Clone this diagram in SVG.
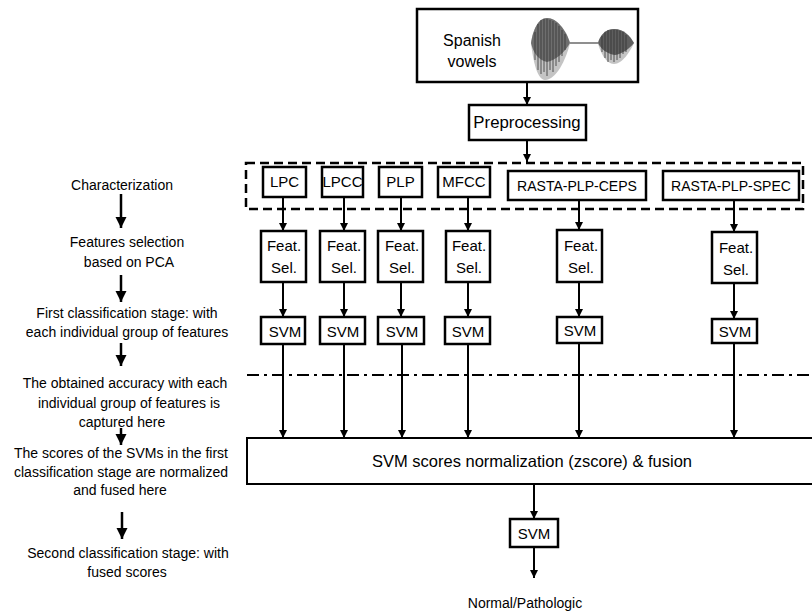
<svg xmlns="http://www.w3.org/2000/svg" width="812" height="616" viewBox="0 0 812 616">
<defs>
<marker id="ah" viewBox="0 0 10 10" refX="10" refY="5" markerWidth="4" markerHeight="4" markerUnits="strokeWidth" orient="auto">
<path d="M0,0 L10,5 L0,10 z" fill="#000"/>
</marker>
<marker id="ahs" viewBox="0 0 10 10" refX="10" refY="5" markerWidth="4.5" markerHeight="4.5" markerUnits="strokeWidth" orient="auto">
<path d="M0,0 L10,5 L0,10 z" fill="#000"/>
</marker>
</defs>
<style>
text{font-family:"Liberation Sans",Arial,sans-serif;fill:#000;}
.lt{font-size:14px;text-anchor:middle;}
.nt{font-size:15px;text-anchor:middle;}
.box{fill:#fff;stroke:#000;stroke-width:2.5;}
.ln{stroke:#000;stroke-width:2;fill:none;marker-end:url(#ah);}
.la{stroke:#000;stroke-width:2.5;fill:none;marker-end:url(#ahs);}
</style>
<rect width="812" height="616" fill="#fff"/>

<!-- left column -->
<g id="legend">
<text class="lt" x="122" y="190">Characterization</text>
<text class="lt" x="127" y="247">Features selection</text>
<text class="lt" x="129" y="267">based on PCA</text>
<text class="lt" x="127" y="318">First classification stage: with</text>
<text class="lt" x="127" y="337">each individual group of features</text>
<text class="lt" x="125" y="388">The obtained accuracy with each</text>
<text class="lt" x="129" y="408">individual group of features is</text>
<text class="lt" x="122" y="427">captured here</text>
<text class="lt" x="121" y="458">The scores of the SVMs in the first</text>
<text class="lt" x="121" y="477">classification stage are normalized</text>
<text class="lt" x="120" y="495">and fused here</text>
<text class="lt" x="128" y="558">Second classification stage: with</text>
<text class="lt" x="127" y="577">fused scores</text>
<path class="la" d="M121,194 V228"/>
<path class="la" d="M121,275 V302"/>
<path class="la" d="M121,343 V366"/>
<path class="la" d="M121,428 V445"/>
<path class="la" d="M122,512 V539"/>
</g>

<!-- dashed characterization frame and dash-dot line -->
<rect id="charFrame" x="246" y="163" width="557" height="46" fill="none" stroke="#000" stroke-width="2.5" stroke-dasharray="9,5"/>
<line id="accLine" x1="247" y1="375" x2="812" y2="375" stroke="#000" stroke-width="2" stroke-dasharray="12,5,3,5"/>

<g id="connectors">
<path class="ln" d="M527,82 V105"/>
<path class="ln" d="M527,140 V162"/>
<path class="ln" d="M283,197 V231"/>
<path class="ln" d="M344,197 V231"/>
<path class="ln" d="M401,197 V231"/>
<path class="ln" d="M468,197 V231"/>
<path class="ln" d="M579,200 V230"/>
<path class="ln" d="M734,200 V232"/>
<path class="ln" d="M283,282 V317"/>
<path class="ln" d="M344,282 V317"/>
<path class="ln" d="M401,282 V317"/>
<path class="ln" d="M468,282 V317"/>
<path class="ln" d="M579,282 V317"/>
<path class="ln" d="M734,283 V319"/>
<path class="ln" d="M283,344 V438"/>
<path class="ln" d="M344,344 V438"/>
<path class="ln" d="M402,344 V438"/>
<path class="ln" d="M468,344 V438"/>
<path class="ln" d="M579,343 V438"/>
<path class="ln" d="M734,343 V438"/>
<path class="ln" d="M534,484 V519"/>
<path class="ln" d="M534,547 V578"/>
</g>

<g id="input">
<rect class="box" x="417" y="9" width="221" height="73"/>
<text x="472" y="46" font-size="16" text-anchor="middle">Spanish</text>
<text x="472" y="67" font-size="16" text-anchor="middle">vowels</text>
<g id="waveform">
<path d="M531,43 C533,30 538,18 547,18 C557,18 566,30 570,43 C566,60 556,80 545,80 C537,80 533,60 531,43 z" fill="#c4c4c4"/>
<path d="M531,43 C533,30 538,18 547,18 C557,18 566,30 570,43 C565,52 556,60 547,62 C538,60 533,52 531,43 z" fill="#6e6e6e"/>
<path d="M598,43 C600,35 606,29 614,29 C624,29 630,36 634,43 C630,52 622,64 614,64 C606,64 600,52 598,43 z" fill="#c4c4c4"/>
<path d="M598,43 C600,35 606,29 614,29 C624,29 630,36 634,43 C629,49 622,54 615,55 C607,54 601,49 598,43 z" fill="#5e5e5e"/>
<g stroke="#333" stroke-width="0.8">
<line x1="535" y1="32" x2="535" y2="60"/><line x1="538" y1="24" x2="538" y2="70"/><line x1="541" y1="20" x2="541" y2="74"/>
<line x1="544" y1="19" x2="544" y2="72"/><line x1="547" y1="19" x2="547" y2="76"/><line x1="550" y1="20" x2="550" y2="70"/>
<line x1="553" y1="21" x2="553" y2="72"/><line x1="556" y1="23" x2="556" y2="66"/><line x1="559" y1="26" x2="559" y2="62"/>
<line x1="562" y1="30" x2="562" y2="56"/><line x1="565" y1="34" x2="565" y2="50"/>
<line x1="602" y1="36" x2="602" y2="52"/><line x1="605" y1="32" x2="605" y2="58"/><line x1="608" y1="30" x2="608" y2="62"/>
<line x1="611" y1="30" x2="611" y2="60"/><line x1="614" y1="30" x2="614" y2="62"/><line x1="617" y1="30" x2="617" y2="60"/>
<line x1="620" y1="31" x2="620" y2="58"/><line x1="623" y1="32" x2="623" y2="54"/><line x1="626" y1="35" x2="626" y2="52"/>
</g>
<line x1="570" y1="43" x2="598" y2="43" stroke="#444" stroke-width="1.2"/>
</g>
</g>

<g id="preprocessing">
<rect class="box" x="469" y="105" width="117" height="35"/>
<text x="527" y="128" font-size="16.8" text-anchor="middle">Preprocessing</text>
</g>

<g id="lpc"><rect class="box" x="263" y="167" width="43" height="30"/><text class="nt" x="284.5" y="187">LPC</text></g>
<g id="lpcc"><rect class="box" x="322" y="167" width="41" height="30"/><text class="nt" x="342.5" y="187">LPCC</text></g>
<g id="plp"><rect class="box" x="379" y="167" width="43" height="30"/><text class="nt" x="400.5" y="187">PLP</text></g>
<g id="mfcc"><rect class="box" x="438" y="167" width="52" height="30"/><text class="nt" x="464" y="187">MFCC</text></g>
<g id="rastaceps"><rect class="box" x="508" y="171" width="138" height="29"/><text class="nt" x="577" y="191" textLength="120" lengthAdjust="spacingAndGlyphs">RASTA-PLP-CEPS</text></g>
<g id="rastaspec"><rect class="box" x="663" y="171" width="136" height="29"/><text class="nt" x="731" y="191" textLength="120" lengthAdjust="spacingAndGlyphs">RASTA-PLP-SPEC</text></g>

<g id="fs1"><rect class="box" x="261" y="231" width="45" height="51"/><text class="nt" x="284" y="251">Feat.</text><text class="nt" x="284" y="273">Sel.</text></g>
<g id="fs2"><rect class="box" x="320" y="231" width="45" height="51"/><text class="nt" x="344" y="251">Feat.</text><text class="nt" x="344" y="273">Sel.</text></g>
<g id="fs3"><rect class="box" x="378" y="231" width="45" height="51"/><text class="nt" x="402" y="251">Feat.</text><text class="nt" x="402" y="273">Sel.</text></g>
<g id="fs4"><rect class="box" x="446" y="231" width="44" height="51"/><text class="nt" x="469" y="251">Feat.</text><text class="nt" x="469" y="273">Sel.</text></g>
<g id="fs5"><rect class="box" x="557" y="230" width="45" height="52"/><text class="nt" x="581" y="251">Feat.</text><text class="nt" x="581" y="273">Sel.</text></g>
<g id="fs6"><rect class="box" x="712" y="232" width="45" height="51"/><text class="nt" x="736" y="253">Feat.</text><text class="nt" x="736" y="275">Sel.</text></g>

<g id="svm1"><rect class="box" x="261" y="317" width="44" height="27"/><text class="nt" x="285" y="337">SVM</text></g>
<g id="svm2"><rect class="box" x="320" y="317" width="45" height="27"/><text class="nt" x="343" y="337">SVM</text></g>
<g id="svm3"><rect class="box" x="378" y="317" width="46" height="27"/><text class="nt" x="402" y="337">SVM</text></g>
<g id="svm4"><rect class="box" x="445" y="317" width="45" height="27"/><text class="nt" x="468" y="337">SVM</text></g>
<g id="svm5"><rect class="box" x="557" y="317" width="45" height="26"/><text class="nt" x="580" y="336">SVM</text></g>
<g id="svm6"><rect class="box" x="712" y="319" width="45" height="24"/><text class="nt" x="735" y="337">SVM</text></g>

<g id="fusion">
<rect x="247" y="438" width="580" height="46" fill="#fff" stroke="#000" stroke-width="2"/>
<text x="532" y="467" font-size="16.5" text-anchor="middle">SVM scores normalization (zscore) &amp; fusion</text>
</g>

<g id="svmFinal"><rect class="box" x="510" y="519" width="48" height="28"/><text class="nt" x="534" y="539">SVM</text></g>

<g id="output"><text x="525" y="608" font-size="14" text-anchor="middle">Normal/Pathologic</text></g>
</svg>
